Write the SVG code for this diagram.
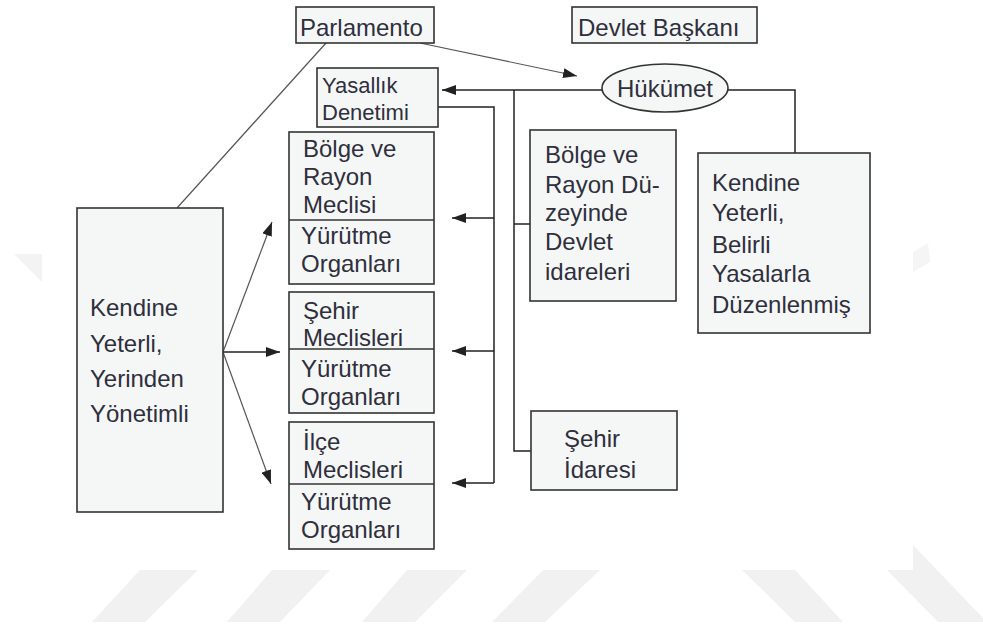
<svg xmlns="http://www.w3.org/2000/svg" width="983" height="628" viewBox="0 0 983 628">
<style>
.box{fill:#f5f7f7;stroke:#333;stroke-width:1.6}
.t{font-family:"Liberation Sans",Arial,sans-serif;font-size:24px;fill:#2f2f3d}
.s{font-size:22px}
.c{stroke:#222;stroke-width:1.5;fill:none}
.cl{stroke:#555;stroke-width:1.2;fill:none}
.wm{fill:#f1f1f1}
</style>
<defs>
<marker id="ah" markerUnits="userSpaceOnUse" markerWidth="15" markerHeight="10" refX="14" refY="5" orient="auto">
<path d="M0,0 L14,5 L0,10 z" fill="#222"/>
</marker>
</defs>
<rect width="983" height="628" fill="#ffffff"/>
<g id="watermark">
<polygon class="wm" points="140,570 198,570 145,622 92,622"/>
<polygon class="wm" points="272,570 330,570 280,622 227,622"/>
<polygon class="wm" points="407,570 467,570 415,622 362,622"/>
<polygon class="wm" points="543,570 600,570 545,622 492,622"/>
<polygon class="wm" points="742,570 795,570 843,622 795,622"/>
<polygon class="wm" points="887,570 913,570 913,545 983,618 983,622 938,622"/>
<polygon fill="#f3f3f3" points="14,254 42,254 42,282"/>
<polygon fill="#f5f5f5" points="913,252 928,243 930,262 913,272"/>
</g>
<g id="connectors">
<line class="cl" x1="420" y1="43" x2="577" y2="76" marker-end="url(#ah)"/>
<line class="cl" x1="326" y1="43" x2="177" y2="208"/>
<line class="c" x1="602" y1="90" x2="442" y2="90" marker-end="url(#ah)"/>
<path class="c" d="M728,90 H795 V153"/>
<path class="c" d="M514,90 V451 H531"/>
<line class="c" x1="514" y1="224" x2="530" y2="224"/>
<path class="c" d="M438,107 H494 V483"/>
<line class="c" x1="494" y1="218" x2="452" y2="218" marker-end="url(#ah)"/>
<line class="c" x1="494" y1="351" x2="452" y2="351" marker-end="url(#ah)"/>
<line class="c" x1="494" y1="483" x2="452" y2="483" marker-end="url(#ah)"/>
<line class="cl" x1="223" y1="352" x2="272" y2="222" marker-end="url(#ah)"/>
<line class="c" x1="223" y1="352" x2="280" y2="352" marker-end="url(#ah)"/>
<line class="cl" x1="223" y1="352" x2="271" y2="484" marker-end="url(#ah)"/>
</g>
<g id="parlamento">
<rect class="box" x="296" y="7" width="138" height="36"/>
<text class="t" x="300" y="36">Parlamento</text>
</g>
<g id="devlet-baskani">
<rect class="box" x="572" y="7" width="185" height="36"/>
<text class="t" x="578" y="36">Devlet Başkanı</text>
</g>
<g id="hukumet">
<ellipse class="box" cx="665" cy="88" rx="63" ry="24"/>
<text class="t" x="665" y="97" text-anchor="middle">Hükümet</text>
</g>
<g id="yasallik">
<rect class="box" x="317" y="68" width="121" height="59"/>
<text class="t s" x="322" y="93">Yasallık</text>
<text class="t s" x="322" y="120">Denetimi</text>
</g>
<g id="bolge-meclis">
<rect class="box" x="289" y="132" width="145" height="152"/>
<line class="box" x1="289" y1="220" x2="434" y2="220"/>
<text class="t" x="303" y="157">Bölge ve</text>
<text class="t" x="303" y="185">Rayon</text>
<text class="t" x="303" y="213">Meclisi</text>
<text class="t" x="301" y="244">Yürütme</text>
<text class="t" x="301" y="272">Organları</text>
</g>
<g id="sehir-meclis">
<rect class="box" x="289" y="292" width="145" height="121"/>
<text class="t" x="303" y="319">Şehir</text>
<text class="t" x="303" y="346">Meclisleri</text>
<line class="box" x1="289" y1="349" x2="434" y2="349"/>
<text class="t" x="301" y="377">Yürütme</text>
<text class="t" x="301" y="405">Organları</text>
</g>
<g id="ilce-meclis">
<rect class="box" x="289" y="422" width="145" height="127"/>
<text class="t" x="303" y="450">İlçe</text>
<text class="t" x="303" y="478">Meclisleri</text>
<line class="box" x1="289" y1="484" x2="434" y2="484"/>
<text class="t" x="301" y="510">Yürütme</text>
<text class="t" x="301" y="538">Organları</text>
</g>
<g id="yerinden-yonetim">
<rect class="box" x="77" y="208" width="146" height="304"/>
<text class="t" x="90" y="316">Kendine</text>
<text class="t" x="90" y="352">Yeterli,</text>
<text class="t" x="90" y="387">Yerinden</text>
<text class="t" x="90" y="422">Yönetimli</text>
</g>
<g id="devlet-idareleri">
<rect class="box" x="530" y="130" width="146" height="171"/>
<text class="t" x="545" y="163">Bölge ve</text>
<text class="t" x="545" y="193">Rayon Dü-</text>
<text class="t" x="545" y="221">zeyinde</text>
<text class="t" x="545" y="250">Devlet</text>
<text class="t" x="545" y="280">idareleri</text>
</g>
<g id="kendine-yeterli-belirli">
<rect class="box" x="698" y="153" width="172" height="180"/>
<text class="t" x="712" y="191">Kendine</text>
<text class="t" x="712" y="221">Yeterli,</text>
<text class="t" x="712" y="253">Belirli</text>
<text class="t" x="712" y="282">Yasalarla</text>
<text class="t" x="712" y="313">Düzenlenmiş</text>
</g>
<g id="sehir-idaresi">
<rect class="box" x="531" y="411" width="146" height="79"/>
<text class="t" x="564" y="447">Şehir</text>
<text class="t" x="564" y="478">İdaresi</text>
</g>
</svg>
